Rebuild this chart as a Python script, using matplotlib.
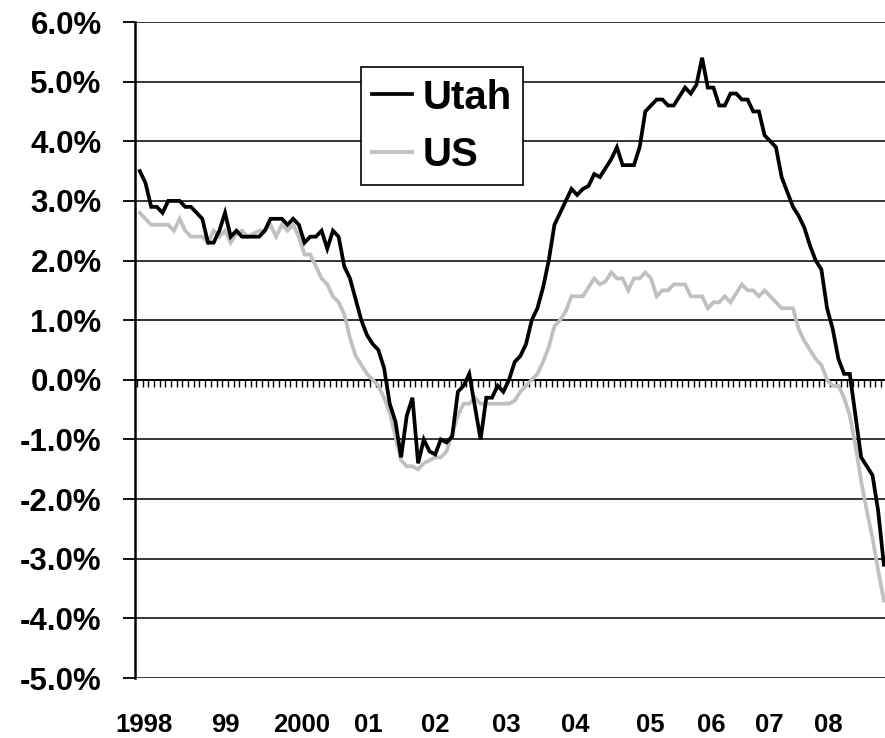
import numpy as np
import matplotlib
matplotlib.use("Agg")
import matplotlib.pyplot as plt
from matplotlib.font_manager import FontProperties

# Monthly year-over-year job growth, Jan 1998 - Dec 2008 (percent)
utah = [3.5, 3.3, 2.9, 2.9, 2.8, 3.0, 3.0, 3.0, 2.9, 2.9, 2.8, 2.7,
        2.3, 2.3, 2.5, 2.8, 2.4, 2.5, 2.4, 2.4, 2.4, 2.4, 2.5, 2.7,
        2.7, 2.7, 2.6, 2.7, 2.6, 2.3, 2.4, 2.4, 2.5, 2.2, 2.5, 2.4,
        1.9, 1.7, 1.35, 1.0, 0.75, 0.6, 0.5, 0.2, -0.4, -0.7, -1.3, -0.6,
        -0.3, -1.4, -1.0, -1.2, -1.25, -1.0, -1.05, -0.95, -0.2, -0.1, 0.1, -0.45,
        -1.0, -0.3, -0.3, -0.1, -0.2, 0.0, 0.3, 0.4, 0.6, 1.0, 1.2, 1.55,
        2.0, 2.6, 2.8, 3.0, 3.2, 3.1, 3.2, 3.25, 3.45, 3.4, 3.55, 3.7,
        3.9, 3.6, 3.6, 3.6, 3.9, 4.5, 4.6, 4.7, 4.7, 4.6, 4.6, 4.75,
        4.9, 4.8, 4.95, 5.4, 4.9, 4.9, 4.6, 4.6, 4.8, 4.8, 4.7, 4.7,
        4.5, 4.5, 4.1, 4.0, 3.9, 3.4, 3.15, 2.9, 2.75, 2.55, 2.25, 2.0,
        1.85, 1.2, 0.85, 0.35, 0.1, 0.1, -0.6, -1.3, -1.45, -1.6, -2.2, -3.1]

us = [2.8, 2.7, 2.6, 2.6, 2.6, 2.6, 2.5, 2.7, 2.5, 2.4, 2.4, 2.4,
      2.3, 2.5, 2.4, 2.5, 2.3, 2.45, 2.5, 2.4, 2.45, 2.5, 2.5, 2.6,
      2.4, 2.6, 2.5, 2.6, 2.4, 2.1, 2.1, 1.9, 1.7, 1.6, 1.4, 1.3,
      1.1, 0.7, 0.4, 0.25, 0.1, 0.0, -0.1, -0.3, -0.55, -0.95, -1.35, -1.45,
      -1.45, -1.5, -1.4, -1.35, -1.3, -1.3, -1.2, -0.9, -0.6, -0.4, -0.4, -0.3,
      -0.4, -0.4, -0.4, -0.4, -0.4, -0.4, -0.35, -0.2, -0.1, 0.0, 0.1, 0.3,
      0.55, 0.9, 1.0, 1.15, 1.4, 1.4, 1.4, 1.55, 1.7, 1.6, 1.65, 1.8,
      1.7, 1.7, 1.5, 1.7, 1.7, 1.8, 1.7, 1.4, 1.5, 1.5, 1.6, 1.6,
      1.6, 1.4, 1.4, 1.4, 1.2, 1.3, 1.3, 1.4, 1.3, 1.45, 1.6, 1.5,
      1.5, 1.4, 1.5, 1.4, 1.3, 1.2, 1.2, 1.2, 0.85, 0.65, 0.5, 0.35,
      0.25, 0.0, -0.1, -0.1, -0.3, -0.6, -1.1, -1.7, -2.2, -2.65, -3.2, -3.7]

year_labels = ["1998", "99", "2000", "01", "02", "03", "04", "05", "06", "07", "08"]
year_label_pos = [0.75, 15.0, 28.5, 40.3, 52.0, 64.6, 76.7, 89.8, 100.6, 110.8, 121.3]
y_ticks = list(range(-5, 7))

fam = "Liberation Sans"
fig = plt.figure(figsize=(8.85, 7.38), dpi=100)
ax = fig.add_axes([135 / 885, 60 / 738, 750 / 885, 656 / 738])

months = np.arange(len(utah))
ax.plot(months, us, color="#c0c0c0", lw=2.7, label="US", zorder=3, solid_joinstyle="miter")
ax.plot(months, utah, color="black", lw=2.7, label="Utah", zorder=4, solid_joinstyle="miter")

ax.set_xlim(-0.85, len(utah) - 0.8)
ax.set_ylim(-5, 6)

# y axis
ax.set_yticks(y_ticks)
ax.set_yticklabels([f"{v:.1f}%" for v in y_ticks], fontfamily=fam, fontweight="bold", fontsize=22.5)
ax.tick_params(axis="y", length=9, width=1.3, pad=15, color="black")
ax.yaxis.grid(True, color="black", lw=1.1)
ax.set_axisbelow(True)

for s in ["top", "right", "bottom"]:
    ax.spines[s].set_visible(False)
ax.spines["left"].set_linewidth(1.8)

# year labels along the bottom
ax.set_xticks(year_label_pos)
ax.set_xticklabels(year_labels, fontfamily=fam, fontweight="bold", fontsize=18.5)
ax.tick_params(axis="x", length=0, pad=25)

# category axis crossing at zero with monthly tick marks
sec = ax.secondary_xaxis(0, transform=ax.transData)
sec.set_xticks(np.arange(len(utah) + 1) - 0.5)
sec.tick_params(axis="x", direction="out", length=5, width=1.0, labelbottom=False, color="black")
sec.spines["bottom"].set_linewidth(1.4)

leg = ax.legend(handles=ax.get_lines()[::-1], loc="upper left", bbox_to_anchor=(0.301, 0.931),
                frameon=True, fancybox=False, edgecolor="black", framealpha=1,
                prop=FontProperties(family=fam, weight="bold", size=29),
                handlelength=1.0, handletextpad=0.25, borderpad=0.28, labelspacing=0.48,
                borderaxespad=0)
leg.get_frame().set_linewidth(1.2)
leg.set_zorder(10)

fig.savefig("out.png", dpi=100)
